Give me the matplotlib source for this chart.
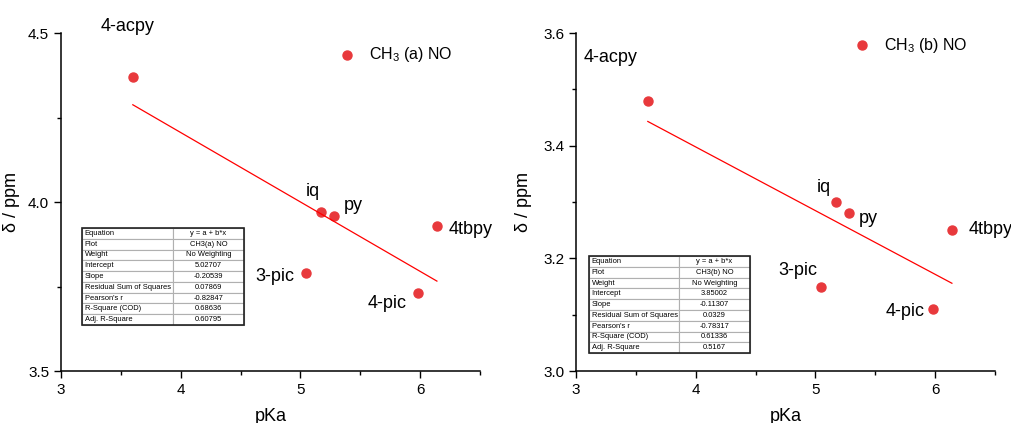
import numpy as np
import matplotlib.pyplot as plt
from matplotlib.patches import Rectangle
from matplotlib.ticker import MultipleLocator

plt.rcParams['font.family'] = ['Liberation Sans', 'DejaVu Sans']
plt.rcParams['mathtext.fontset'] = 'custom'
plt.rcParams['mathtext.rm'] = 'Liberation Sans'
plt.rcParams['mathtext.it'] = 'Liberation Sans:italic'

names = ['4-acpy', 'iq', 'py', '4tbpy', '3-pic', '4-pic']
pka = [3.60, 5.17, 5.28, 6.14, 5.05, 5.98]
shift_a = [4.37, 3.97, 3.96, 3.93, 3.79, 3.73]
shift_b = [3.48, 3.30, 3.28, 3.25, 3.15, 3.11]

fit_a = dict(plot='CH3(a) NO', intercept='5.02707', slope='-0.20539', rss='0.07869',
             r='-0.82847', r2='0.68636', adj='0.60795')
fit_b = dict(plot='CH3(b) NO', intercept='3.85002', slope='-0.11307', rss='0.0329',
             r='-0.78317', r2='0.61336', adj='0.5167')

# label offsets (data units) for each point name
lab_a = [(3.56, 4.52, 'center'), (5.10, 4.03, 'center'), (5.36, 3.99, 'left'),
         (6.24, 3.92, 'left'), (4.95, 3.78, 'right'), (5.89, 3.70, 'right')]
lab_b = [(3.06, 3.557, 'left'), (5.07, 3.325, 'center'), (5.36, 3.27, 'left'),
         (6.28, 3.252, 'left'), (5.02, 3.178, 'right'), (5.91, 3.105, 'right')]

red = '#e8393c'


def draw(ax, shift, fit, labels, ylim, ymaj, legtxt, leg_xy, tbl_box, ylab_x):
    ax.plot(pka, shift, 'o', color=red, ms=6.5, mec=red)
    a, b = float(fit['intercept']), float(fit['slope'])
    xs = np.array([min(pka), max(pka)])
    ax.plot(xs, a + b * xs, color='red', lw=0.9)

    for n, (x, y, ha) in zip(names, labels):
        ax.text(x, y, n, fontsize=13, ha=ha, va='center')

    # legend marker + text
    lx, ly = leg_xy
    ax.plot([lx], [ly], 'o', color=red, ms=6.5, clip_on=False)
    ax.text(lx + 0.18, ly, legtxt, fontsize=11.5, va='center')

    ax.set_xlim(3, 6.5)
    ax.set_ylim(*ylim)
    ax.xaxis.set_major_locator(MultipleLocator(1))
    ax.xaxis.set_minor_locator(MultipleLocator(0.5))
    ax.yaxis.set_major_locator(MultipleLocator(ymaj))
    ax.yaxis.set_minor_locator(MultipleLocator(ymaj / 2))
    ax.tick_params(which='major', length=5, width=1, labelsize=11)
    ax.tick_params(which='minor', length=3, width=1)
    for s in ['top', 'right']:
        ax.spines[s].set_visible(False)
    for s in ['left', 'bottom']:
        ax.spines[s].set_linewidth(1.1)
    ax.set_xlabel('pKa', fontsize=13, labelpad=8)
    ax.set_ylabel('δ / ppm', fontsize=13)
    ax.yaxis.set_label_coords(ylab_x, 0.5)

    rows = [['Equation', 'y = a + b*x'], ['Plot', fit['plot']], ['Weight', 'No Weighting'],
            ['Intercept', fit['intercept']], ['Slope', fit['slope']],
            ['Residual Sum of Squares', fit['rss']], ["Pearson's r", fit['r']],
            ['R-Square (COD)', fit['r2']], ['Adj. R-Square', fit['adj']]]
    tb = ax.table(cellText=rows, bbox=tbl_box, colWidths=[0.56, 0.44])
    tb.auto_set_font_size(False)
    tb.set_fontsize(5.4)
    for (r, c), cell in tb.get_celld().items():
        cell.set_edgecolor('#b0b0b0')
        cell.set_linewidth(0.8)
        cell.PAD = 0.03
        cell.get_text().set_ha('left' if c == 0 else 'center')
        cell._loc = 'left' if c == 0 else 'center'
    ax.add_patch(Rectangle(tbl_box[:2], tbl_box[2], tbl_box[3], transform=ax.transAxes,
                           fill=False, ec='#222222', lw=1.2, zorder=10, clip_on=False))


fig = plt.figure(figsize=(10.11, 4.23), dpi=100)
W, H = 1011, 423
ax1 = fig.add_axes([61 / W, 1 - 371 / H, 419 / W, 338 / H])
ax2 = fig.add_axes([576 / W, 1 - 371 / H, 419 / W, 338 / H])

draw(ax1, shift_a, fit_a, lab_a, (3.5, 4.5), 0.5, r'$\mathrm{CH_3}$ (a) NO', (5.39, 4.435),
     [0.050, 0.136, 0.387, 0.287], -0.098)
draw(ax2, shift_b, fit_b, lab_b, (3.0, 3.6), 0.2, r'$\mathrm{CH_3}$ (b) NO', (5.39, 3.578),
     [0.031, 0.053, 0.384, 0.287], -0.105)

fig.savefig('out.png', dpi=100)
